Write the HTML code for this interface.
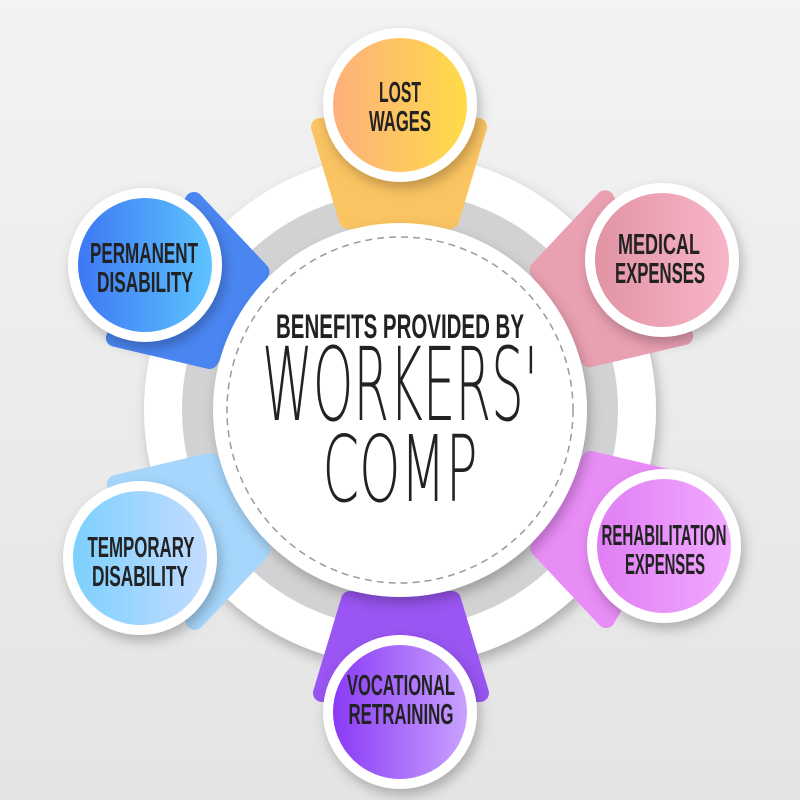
<!DOCTYPE html>
<html><head><meta charset="utf-8"><style>
html,body{margin:0;padding:0;width:800px;height:800px;overflow:hidden}
svg{display:block}
.lbl{font-family:"Liberation Sans Narrow","Liberation Sans",sans-serif;font-weight:bold;font-size:29px;fill:#222;text-anchor:middle}
</style></head><body>
<svg width="800" height="800" viewBox="0 0 800 800" xmlns="http://www.w3.org/2000/svg">
<defs>
<linearGradient id="bg" x1="0" y1="0" x2="0" y2="1"><stop offset="0" stop-color="#f3f3f3"/><stop offset="1" stop-color="#e4e4e4"/></linearGradient>
<linearGradient id="gLW" x1="0" x2="1"><stop offset="0" stop-color="#fdb07c"/><stop offset="1" stop-color="#ffdb48"/></linearGradient>
<linearGradient id="gME" x1="0" x2="1"><stop offset="0" stop-color="#e293a4"/><stop offset="1" stop-color="#f7b6c8"/></linearGradient>
<linearGradient id="gRE" x1="0" x2="1"><stop offset="0" stop-color="#e07ef4"/><stop offset="1" stop-color="#f0a9ff"/></linearGradient>
<linearGradient id="gVR" x1="0" x2="1"><stop offset="0" stop-color="#8a3af5"/><stop offset="1" stop-color="#c9a2ff"/></linearGradient>
<linearGradient id="gTD" x1="0" x2="1"><stop offset="0" stop-color="#7dd0ff"/><stop offset="1" stop-color="#c3dcff"/></linearGradient>
<linearGradient id="gPD" x1="0" x2="1"><stop offset="0" stop-color="#3d78f4"/><stop offset="1" stop-color="#5ec4ff"/></linearGradient>
<filter id="sh" x="-30%" y="-30%" width="160%" height="160%"><feDropShadow dx="3" dy="6" stdDeviation="6" flood-color="#000" flood-opacity="0.25"/></filter>
</defs>
<rect width="800" height="800" fill="url(#bg)"/>
<circle cx="400" cy="410" r="256" fill="#fff" filter="url(#sh)"/>
<circle cx="400" cy="410" r="218" fill="#d2d2d4"/>
<g stroke-linejoin="round" stroke-width="18">
<g transform="translate(400,410) rotate(0) translate(0,-305)"><path d="M-80,22 L78,22 L50,115 L-52,115 Z" fill="#fbc462" stroke="#fbc462"/></g>
<g transform="translate(400,410) rotate(60) translate(0,-305)"><path d="M-80,22 L78,22 L50,115 L-52,115 Z" fill="#e9a0b1" stroke="#e9a0b1"/></g>
<g transform="translate(400,410) rotate(120) translate(0,-305)"><path d="M-80,22 L78,22 L50,115 L-52,115 Z" fill="#e88cf6" stroke="#e88cf6"/></g>
<g transform="translate(400,410) rotate(180) translate(0,-305)"><path d="M-80,22 L78,22 L50,115 L-52,115 Z" fill="#9a55f2" stroke="#9a55f2"/></g>
<g transform="translate(400,410) rotate(240) translate(0,-305)"><path d="M-80,22 L78,22 L50,115 L-52,115 Z" fill="#a6d6fb" stroke="#a6d6fb"/></g>
<g transform="translate(400,410) rotate(300) translate(0,-305)"><path d="M-80,22 L78,22 L50,115 L-52,115 Z" fill="#4a86f2" stroke="#4a86f2"/></g>
</g>
<circle cx="400" cy="410" r="187" fill="#fff" filter="url(#sh)"/>
<circle cx="400" cy="410" r="173" fill="none" stroke="#9a9a9a" stroke-width="1.5" stroke-dasharray="7,5"/>
<text x="400" y="338" font-family="'Liberation Sans Narrow','Liberation Sans',sans-serif" font-weight="bold" font-size="34" fill="#222" text-anchor="middle" textLength="248" lengthAdjust="spacingAndGlyphs">BENEFITS PROVIDED BY</text>
<text x="400" y="420" font-family="'DejaVu Sans','Liberation Sans',sans-serif" font-weight="200" font-size="102" fill="#222" text-anchor="middle" textLength="276" lengthAdjust="spacingAndGlyphs">WORKERS'</text>
<text x="400" y="501" font-family="'DejaVu Sans','Liberation Sans',sans-serif" font-weight="200" font-size="92" fill="#222" text-anchor="middle" textLength="155" lengthAdjust="spacingAndGlyphs">COMP</text>
<g filter="url(#sh)">
<circle cx="400" cy="105" r="77" fill="#fff"/>
<circle cx="662" cy="260" r="77" fill="#fff"/>
<circle cx="664" cy="546" r="77" fill="#fff"/>
<circle cx="400" cy="712" r="77" fill="#fff"/>
<circle cx="140" cy="558" r="77" fill="#fff"/>
<circle cx="145" cy="265" r="77" fill="#fff"/>
</g>
<circle cx="400" cy="105" r="67" fill="url(#gLW)"/>
<circle cx="662" cy="260" r="67" fill="url(#gME)"/>
<circle cx="664" cy="546" r="67" fill="url(#gRE)"/>
<circle cx="400" cy="712" r="67" fill="url(#gVR)"/>
<circle cx="140" cy="558" r="67" fill="url(#gTD)"/>
<circle cx="145" cy="265" r="67" fill="url(#gPD)"/>
<text class="lbl" x="400" y="102" textLength="42" lengthAdjust="spacingAndGlyphs">LOST</text>
<text class="lbl" x="400" y="131" textLength="62" lengthAdjust="spacingAndGlyphs">WAGES</text>
<text class="lbl" x="659" y="254" textLength="82" lengthAdjust="spacingAndGlyphs">MEDICAL</text>
<text class="lbl" x="660" y="283" textLength="90" lengthAdjust="spacingAndGlyphs">EXPENSES</text>
<text class="lbl" x="664" y="545" textLength="125" lengthAdjust="spacingAndGlyphs">REHABILITATION</text>
<text class="lbl" x="665" y="574" textLength="80" lengthAdjust="spacingAndGlyphs">EXPENSES</text>
<text class="lbl" x="401" y="695" textLength="108" lengthAdjust="spacingAndGlyphs">VOCATIONAL</text>
<text class="lbl" x="401" y="724" textLength="105" lengthAdjust="spacingAndGlyphs">RETRAINING</text>
<text class="lbl" x="141" y="557" textLength="107" lengthAdjust="spacingAndGlyphs">TEMPORARY</text>
<text class="lbl" x="140" y="586" textLength="96" lengthAdjust="spacingAndGlyphs">DISABILITY</text>
<text class="lbl" x="144" y="263" textLength="108" lengthAdjust="spacingAndGlyphs">PERMANENT</text>
<text class="lbl" x="145" y="292" textLength="96" lengthAdjust="spacingAndGlyphs">DISABILITY</text>
</svg>
</body></html>
